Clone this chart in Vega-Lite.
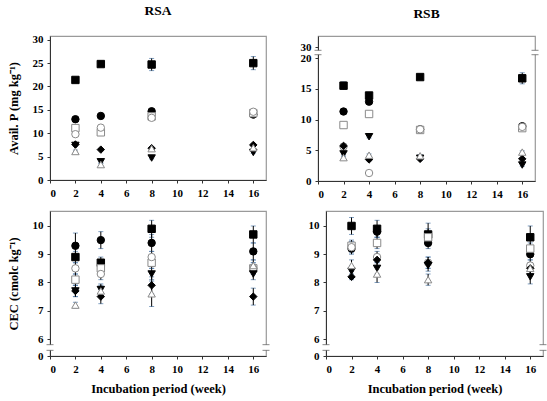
{
  "$schema": "https://vega.github.io/schema/vega-lite/v6.json",
  "padding": {"left": 6, "top": 3, "right": 5, "bottom": 5},
  "background": "white",
  "config": {
    "font": "Liberation Serif",
    "view": {"stroke": "#9a9a9a", "strokeWidth": 1.2},
    "axis": {
      "labelFont": "Liberation Serif", "labelFontWeight": "bold", "labelFontSize": 11, "labelColor": "black",
      "labelOverlap": false,
      "titleFont": "Liberation Serif", "titleFontWeight": "bold", "titleFontSize": 12.5, "titleColor": "black",
      "domainColor": "#333", "tickColor": "#333", "tickSize": 3, "grid": false, "labelPadding": 4
    },
    "title": {"font": "Liberation Serif", "fontWeight": "bold", "fontSize": 13.5, "color": "black", "offset": 16},
    "errorbar": {"ticks": {"size": 5}, "color": "#8a8a8a", "thickness": 1},
    "point": {"size": 55, "opacity": 1, "strokeWidth": 1},
    "concat": {"spacing": 10}
  },
  "datasets": {
    "soil": [
      {"site": "RSA", "wk": 2, "trt": "T1", "p": 21.4, "p_sd": 0.5, "cec": 8.9, "cec_sd": 0.2},
      {"site": "RSA", "wk": 2, "trt": "T2", "p": 13.0, "p_sd": 0.2, "cec": 9.3, "cec_sd": 0.45},
      {"site": "RSA", "wk": 2, "trt": "T3", "p": 11.1, "p_sd": 0.3, "cec": 8.1, "cec_sd": 0.2},
      {"site": "RSA", "wk": 2, "trt": "T4", "p": 9.8, "p_sd": 0.3, "cec": 8.5, "cec_sd": 0.2},
      {"site": "RSA", "wk": 2, "trt": "T5", "p": 7.6, "p_sd": 0.3, "cec": 7.7, "cec_sd": 0.2},
      {"site": "RSA", "wk": 2, "trt": "T6", "p": 7.4, "p_sd": 0.2, "cec": 7.7, "cec_sd": 0.2},
      {"site": "RSA", "wk": 2, "trt": "T7", "p": 6.1, "p_sd": 0.3, "cec": 7.2, "cec_sd": 0.1},
      {"site": "RSA", "wk": 4, "trt": "T1", "p": 24.8, "p_sd": 0.3, "cec": 8.7, "cec_sd": 0.2},
      {"site": "RSA", "wk": 4, "trt": "T2", "p": 13.7, "p_sd": 0.3, "cec": 9.5, "cec_sd": 0.3},
      {"site": "RSA", "wk": 4, "trt": "T3", "p": 10.2, "p_sd": 0.3, "cec": 8.5, "cec_sd": 0.2},
      {"site": "RSA", "wk": 4, "trt": "T4", "p": 11.2, "p_sd": 0.3, "cec": 8.3, "cec_sd": 0.2},
      {"site": "RSA", "wk": 4, "trt": "T5", "p": 6.5, "p_sd": 0.2, "cec": 7.5, "cec_sd": 0.25},
      {"site": "RSA", "wk": 4, "trt": "T6", "p": 3.9, "p_sd": 0.3, "cec": 7.75, "cec_sd": 0.2},
      {"site": "RSA", "wk": 4, "trt": "T7", "p": 3.3, "p_sd": 0.3, "cec": 7.7, "cec_sd": 0.2},
      {"site": "RSA", "wk": 8, "trt": "T1", "p": 24.7, "p_sd": 1.3, "cec": 9.9, "cec_sd": 0.3},
      {"site": "RSA", "wk": 8, "trt": "T2", "p": 14.7, "p_sd": 0.3, "cec": 9.4, "cec_sd": 0.3},
      {"site": "RSA", "wk": 8, "trt": "T3", "p": 13.6, "p_sd": 0.3, "cec": 8.7, "cec_sd": 0.2},
      {"site": "RSA", "wk": 8, "trt": "T4", "p": 13.3, "p_sd": 0.3, "cec": 8.9, "cec_sd": 0.2},
      {"site": "RSA", "wk": 8, "trt": "T5", "p": 6.8, "p_sd": 0.3, "cec": 7.9, "cec_sd": 0.3},
      {"site": "RSA", "wk": 8, "trt": "T6", "p": 4.7, "p_sd": 0.2, "cec": 8.3, "cec_sd": 0.2},
      {"site": "RSA", "wk": 8, "trt": "T7", "p": 6.7, "p_sd": 0.2, "cec": 7.6, "cec_sd": 0.45},
      {"site": "RSA", "wk": 16, "trt": "T1", "p": 25.0, "p_sd": 1.4, "cec": 9.7, "cec_sd": 0.3},
      {"site": "RSA", "wk": 16, "trt": "T2", "p": 14.0, "p_sd": 0.3, "cec": 9.1, "cec_sd": 0.3},
      {"site": "RSA", "wk": 16, "trt": "T3", "p": 14.3, "p_sd": 0.3, "cec": 8.5, "cec_sd": 0.2},
      {"site": "RSA", "wk": 16, "trt": "T4", "p": 14.6, "p_sd": 0.3, "cec": 8.5, "cec_sd": 0.2},
      {"site": "RSA", "wk": 16, "trt": "T5", "p": 7.5, "p_sd": 0.3, "cec": 7.5, "cec_sd": 0.3},
      {"site": "RSA", "wk": 16, "trt": "T6", "p": 5.9, "p_sd": 0.2, "cec": 8.3, "cec_sd": 0.2},
      {"site": "RSA", "wk": 16, "trt": "T7", "p": 6.9, "p_sd": 0.3, "cec": 8.6, "cec_sd": 0.2},
      {"site": "RSB", "wk": 2, "trt": "T1", "p": 15.5, "p_sd": 0.6, "cec": 10.0, "cec_sd": 0.3},
      {"site": "RSB", "wk": 2, "trt": "T2", "p": 11.3, "p_sd": 0.2, "cec": 9.2, "cec_sd": 0.2},
      {"site": "RSB", "wk": 2, "trt": "T3", "p": 9.1, "p_sd": 0.2, "cec": 9.3, "cec_sd": 0.2},
      {"site": "RSB", "wk": 2, "trt": "T4", "p": 5.6, "p_sd": 0.2, "cec": 9.25, "cec_sd": 0.2},
      {"site": "RSB", "wk": 2, "trt": "T5", "p": 5.7, "p_sd": 0.2, "cec": 8.2, "cec_sd": 0.1},
      {"site": "RSB", "wk": 2, "trt": "T6", "p": 4.4, "p_sd": 0.2, "cec": 8.4, "cec_sd": 0.2},
      {"site": "RSB", "wk": 2, "trt": "T7", "p": 3.8, "p_sd": 0.2, "cec": 8.6, "cec_sd": 0.2},
      {"site": "RSB", "wk": 4, "trt": "T1", "p": 13.9, "p_sd": 0.3, "cec": 9.9, "cec_sd": 0.3},
      {"site": "RSB", "wk": 4, "trt": "T2", "p": 12.9, "p_sd": 0.3, "cec": 9.8, "cec_sd": 0.2},
      {"site": "RSB", "wk": 4, "trt": "T3", "p": 10.9, "p_sd": 0.2, "cec": 9.4, "cec_sd": 0.2},
      {"site": "RSB", "wk": 4, "trt": "T4", "p": 1.3, "p_sd": 0.2, "cec": 8.9, "cec_sd": 0.2},
      {"site": "RSB", "wk": 4, "trt": "T5", "p": 3.5, "p_sd": 0.2, "cec": 8.8, "cec_sd": 0.2},
      {"site": "RSB", "wk": 4, "trt": "T6", "p": 7.2, "p_sd": 0.2, "cec": 8.5, "cec_sd": 0.2},
      {"site": "RSB", "wk": 4, "trt": "T7", "p": 4.2, "p_sd": 0.2, "cec": 8.3, "cec_sd": 0.3},
      {"site": "RSB", "wk": 8, "trt": "T1", "p": 16.9, "p_sd": 0.4, "cec": 9.7, "cec_sd": 0.4},
      {"site": "RSB", "wk": 8, "trt": "T2", "p": 8.4, "p_sd": 0.2, "cec": 9.4, "cec_sd": 0.2},
      {"site": "RSB", "wk": 8, "trt": "T3", "p": 8.3, "p_sd": 0.2, "cec": 9.6, "cec_sd": 0.3},
      {"site": "RSB", "wk": 8, "trt": "T4", "p": 8.4, "p_sd": 0.2, "cec": 8.7, "cec_sd": 0.2},
      {"site": "RSB", "wk": 8, "trt": "T5", "p": 3.6, "p_sd": 0.2, "cec": 8.7, "cec_sd": 0.2},
      {"site": "RSB", "wk": 8, "trt": "T6", "p": 3.7, "p_sd": 0.2, "cec": 8.6, "cec_sd": 0.2},
      {"site": "RSB", "wk": 8, "trt": "T7", "p": 4.1, "p_sd": 0.2, "cec": 8.1, "cec_sd": 0.2},
      {"site": "RSB", "wk": 16, "trt": "T1", "p": 16.7, "p_sd": 0.9, "cec": 9.6, "cec_sd": 0.4},
      {"site": "RSB", "wk": 16, "trt": "T2", "p": 8.9, "p_sd": 0.2, "cec": 9.0, "cec_sd": 0.2},
      {"site": "RSB", "wk": 16, "trt": "T3", "p": 8.6, "p_sd": 0.3, "cec": 9.2, "cec_sd": 0.2},
      {"site": "RSB", "wk": 16, "trt": "T4", "p": 8.8, "p_sd": 0.2, "cec": 8.6, "cec_sd": 0.2},
      {"site": "RSB", "wk": 16, "trt": "T5", "p": 3.6, "p_sd": 0.2, "cec": 8.5, "cec_sd": 0.2},
      {"site": "RSB", "wk": 16, "trt": "T6", "p": 2.6, "p_sd": 0.2, "cec": 8.2, "cec_sd": 0.25},
      {"site": "RSB", "wk": 16, "trt": "T7", "p": 4.7, "p_sd": 0.2, "cec": 8.5, "cec_sd": 0.2}
    ],
    "breakP": [{"wk": 0, "p": 23}, {"wk": 0, "p": 27}, {"wk": 17, "p": 23}, {"wk": 17, "p": 27}],
    "breakCEC": [{"wk": 0, "cec": 2}, {"wk": 0, "cec": 4}, {"wk": 17, "cec": 2}, {"wk": 17, "cec": 4}]
  },
  "vconcat": [
    {
      "spacing": 32,
      "hconcat": [
        {
          "title": "RSA",
          "width": 216, "height": 144,
          "encoding": {
            "x": {"field": "wk", "type": "quantitative",
                  "scale": {"domain": [0, 17], "nice": false, "zero": false},
                  "axis": {"values": [0, 2, 4, 6, 8, 10, 12, 14, 16], "labelOverlap": false, "title": null}},
            "y": {"field": "p", "type": "quantitative",
                  "scale": {"domain": [0, 30.8], "nice": false, "zero": false},
                  "axis": {"values": [0, 5, 10, 15, 20, 25, 30], "labelOverlap": false, "title": "Avail. P (mg kg⁻¹)", "titlePadding": 12}}
          },
          "layer": [
            {
              "data": {"name": "soil"},
              "transform": [{"filter": "datum.site === 'RSA'"}],
              "mark": "errorbar",
              "encoding": {"yError": {"field": "p_sd"}}
            },
            {
              "data": {"name": "soil"},
              "transform": [{"filter": "datum.site === 'RSA'"}],
              "mark": "point",
              "encoding": {
                "shape": {"field": "trt", "type": "nominal", "legend": null,
                          "scale": {"domain": ["T1","T2","T3","T4","T5","T6","T7"], "range": ["square","circle","square","circle","diamond","triangle-down","triangle-up"]}},
                "fill": {"field": "trt", "type": "nominal", "legend": null,
                         "scale": {"domain": ["T1","T2","T3","T4","T5","T6","T7"], "range": ["black","black","white","white","black","black","white"]}},
                "stroke": {"field": "trt", "type": "nominal", "legend": null,
                           "scale": {"domain": ["T1","T2","T3","T4","T5","T6","T7"], "range": ["black","black","#8a8a8a","#8a8a8a","black","black","#8a8a8a"]}}
              }
            }
          ]
        },
        {
          "title": "RSB",
          "width": 217, "height": 145,
          "encoding": {
            "x": {"field": "wk", "type": "quantitative",
                  "scale": {"domain": [0, 17], "nice": false, "zero": false},
                  "axis": {"values": [0, 2, 4, 6, 8, 10, 12, 14, 16], "labelOverlap": false, "title": null}},
            "y": {"field": "p", "type": "quantitative",
                  "scale": {"domain": [0, 20, 30, 40], "range": [145, 22, 11, 0], "nice": false, "zero": false},
                  "axis": {"values": [0, 5, 10, 15, 20, 30], "labelOverlap": false, "title": null}}
          },
          "layer": [
            {
              "data": {"name": "soil"},
              "transform": [{"filter": "datum.site === 'RSB'"}],
              "mark": "errorbar",
              "encoding": {"yError": {"field": "p_sd"}}
            },
            {
              "data": {"name": "soil"},
              "transform": [{"filter": "datum.site === 'RSB'"}],
              "mark": "point",
              "encoding": {
                "shape": {"field": "trt", "type": "nominal", "legend": null,
                          "scale": {"domain": ["T1","T2","T3","T4","T5","T6","T7"], "range": ["square","circle","square","circle","diamond","triangle-down","triangle-up"]}},
                "fill": {"field": "trt", "type": "nominal", "legend": null,
                         "scale": {"domain": ["T1","T2","T3","T4","T5","T6","T7"], "range": ["black","black","white","white","black","black","white"]}},
                "stroke": {"field": "trt", "type": "nominal", "legend": null,
                           "scale": {"domain": ["T1","T2","T3","T4","T5","T6","T7"], "range": ["black","black","#8a8a8a","#8a8a8a","black","black","#8a8a8a"]}}
              }
            },
            {
              "data": {"name": "breakP"},
              "mark": {"type": "line", "color": "white", "strokeWidth": 4},
              "encoding": {"detail": {"field": "wk", "type": "nominal"}}
            },
            {
              "data": {"name": "breakP"},
              "mark": {"type": "tick", "orient": "horizontal", "color": "#555", "size": 7, "thickness": 1},
              "encoding": {}
            }
          ]
        }
      ]
    },
    {
      "spacing": 32,
      "hconcat": [
        {
          "width": 216, "height": 145,
          "encoding": {
            "x": {"field": "wk", "type": "quantitative",
                  "scale": {"domain": [0, 17], "nice": false, "zero": false},
                  "axis": {"values": [0, 2, 4, 6, 8, 10, 12, 14, 16], "labelOverlap": false, "title": "Incubation period (week)", "titlePadding": 8}},
            "y": {"field": "cec", "type": "quantitative",
                  "scale": {"domain": [0, 6, 10.53], "range": [145, 128, 0], "nice": false, "zero": false},
                  "axis": {"values": [0, 6, 7, 8, 9, 10], "labelOverlap": false, "title": "CEC (cmolc kg⁻¹)", "titlePadding": 12}}
          },
          "layer": [
            {
              "data": {"name": "soil"},
              "transform": [{"filter": "datum.site === 'RSA'"}],
              "mark": "errorbar",
              "encoding": {"yError": {"field": "cec_sd"}}
            },
            {
              "data": {"name": "soil"},
              "transform": [{"filter": "datum.site === 'RSA'"}],
              "mark": "point",
              "encoding": {
                "shape": {"field": "trt", "type": "nominal", "legend": null,
                          "scale": {"domain": ["T1","T2","T3","T4","T5","T6","T7"], "range": ["square","circle","square","circle","diamond","triangle-down","triangle-up"]}},
                "fill": {"field": "trt", "type": "nominal", "legend": null,
                         "scale": {"domain": ["T1","T2","T3","T4","T5","T6","T7"], "range": ["black","black","white","white","black","black","white"]}},
                "stroke": {"field": "trt", "type": "nominal", "legend": null,
                           "scale": {"domain": ["T1","T2","T3","T4","T5","T6","T7"], "range": ["black","black","#8a8a8a","#8a8a8a","black","black","#8a8a8a"]}}
              }
            },
            {
              "data": {"name": "breakCEC"},
              "mark": {"type": "line", "color": "white", "strokeWidth": 4},
              "encoding": {"detail": {"field": "wk", "type": "nominal"}}
            },
            {
              "data": {"name": "breakCEC"},
              "mark": {"type": "tick", "orient": "horizontal", "color": "#555", "size": 7, "thickness": 1},
              "encoding": {}
            }
          ]
        },
        {
          "width": 217, "height": 145,
          "encoding": {
            "x": {"field": "wk", "type": "quantitative",
                  "scale": {"domain": [0, 17], "nice": false, "zero": false},
                  "axis": {"values": [0, 2, 4, 6, 8, 10, 12, 14, 16], "labelOverlap": false, "title": "Incubation period (week)", "titlePadding": 8}},
            "y": {"field": "cec", "type": "quantitative",
                  "scale": {"domain": [0, 6, 10.53], "range": [145, 128, 0], "nice": false, "zero": false},
                  "axis": {"values": [0, 6, 7, 8, 9, 10], "labelOverlap": false, "title": null}}
          },
          "layer": [
            {
              "data": {"name": "soil"},
              "transform": [{"filter": "datum.site === 'RSB'"}],
              "mark": "errorbar",
              "encoding": {"yError": {"field": "cec_sd"}}
            },
            {
              "data": {"name": "soil"},
              "transform": [{"filter": "datum.site === 'RSB'"}],
              "mark": "point",
              "encoding": {
                "shape": {"field": "trt", "type": "nominal", "legend": null,
                          "scale": {"domain": ["T1","T2","T3","T4","T5","T6","T7"], "range": ["square","circle","square","circle","diamond","triangle-down","triangle-up"]}},
                "fill": {"field": "trt", "type": "nominal", "legend": null,
                         "scale": {"domain": ["T1","T2","T3","T4","T5","T6","T7"], "range": ["black","black","white","white","black","black","white"]}},
                "stroke": {"field": "trt", "type": "nominal", "legend": null,
                           "scale": {"domain": ["T1","T2","T3","T4","T5","T6","T7"], "range": ["black","black","#8a8a8a","#8a8a8a","black","black","#8a8a8a"]}}
              }
            },
            {
              "data": {"name": "breakCEC"},
              "mark": {"type": "line", "color": "white", "strokeWidth": 4},
              "encoding": {"detail": {"field": "wk", "type": "nominal"}}
            },
            {
              "data": {"name": "breakCEC"},
              "mark": {"type": "tick", "orient": "horizontal", "color": "#555", "size": 7, "thickness": 1},
              "encoding": {}
            }
          ]
        }
      ]
    }
  ]
}
